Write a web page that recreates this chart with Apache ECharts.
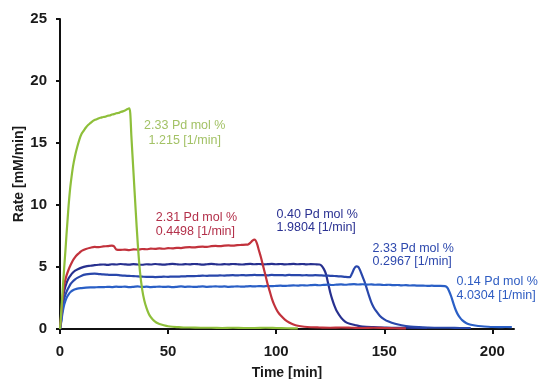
<!DOCTYPE html>
<html><head><meta charset="utf-8">
<script src="https://cdn.jsdelivr.net/npm/echarts@6/dist/echarts.min.js"></script>
<style>html,body{margin:0;padding:0;background:#fff}#c{width:540px;height:379px}</style>
</head><body><div id="c"></div>
<script>
var xTicks = [0, 50, 100, 150, 200];
var yTicks = [0, 5, 10, 15, 20, 25];

var green233 = [[0,0],[0.5,1.2],[1,2.5],[1.5,3.8],[2,5.1],[2.5,6.3],[3,7.6],[3.5,8.8],[4,10],[4.5,11],[5,11.8],[6,13.1],[7,14],[8,14.7],[9,15.3],[10,15.75],[11,16.0],[12,16.25],[13,16.45],[14,16.6],[15,16.75],[16,16.85],[17,16.92],[18,17.0],[19,17.05],[20,17.1],[21,17.12],[22,17.2],[23,17.22],[24,17.3],[25,17.33],[26,17.4],[27,17.42],[28,17.5],[29,17.55],[30,17.62],[31,17.72],[32,17.8],[32.5,17.4],[33,15.6],[34,12.6],[35,9.6],[36,6.8],[37,4.6],[38,3.2],[39,2.3],[40,1.7],[41,1.25],[42,0.95],[43,0.75],[44,0.6],[45,0.48],[46,0.4],[48,0.3],[50,0.22],[52,0.18],[55,0.15],[58,0.12],[60,0.12],[65,0.1],[70,0.1],[75,0.08],[80,0.1],[85,0.08],[90,0.08],[95,0.1],[100,0.08],[105,0.06],[110,0.05]];

var red231 = [[0,0],[0.5,1.0],[1,2.2],[1.5,3.0],[2,3.6],[3,4.3],[4,4.8],[5,5.2],[6,5.55],[7,5.8],[8,6.0],[9,6.15],[10,6.3],[12,6.45],[14,6.55],[16,6.62],[18,6.6],[20,6.66],[22,6.68],[24,6.72],[25,6.66],[26,6.42],[28,6.38],[30,6.4],[32,6.36],[34,6.42],[36,6.4],[38,6.45],[40,6.43],[42,6.48],[44,6.46],[46,6.5],[48,6.47],[50,6.52],[52,6.5],[54,6.55],[56,6.53],[58,6.58],[60,6.6],[62,6.58],[64,6.62],[66,6.64],[68,6.62],[70,6.68],[72,6.7],[74,6.68],[76,6.72],[78,6.74],[80,6.72],[82,6.76],[84,6.78],[86,6.8],[87,6.82],[88,6.95],[89,7.12],[90,7.2],[91,6.95],[92,6.35],[93,5.75],[94,5.05],[95,4.35],[96,3.65],[97,3.05],[98,2.45],[99,1.98],[100,1.62],[101,1.32],[102,1.1],[104,0.76],[106,0.52],[108,0.36],[110,0.26],[113,0.18],[116,0.14],[120,0.12],[125,0.1],[130,0.12],[135,0.1],[140,0.08],[145,0.1],[150,0.08],[155,0.06],[160,0.05]];

var navy040 = [[0,0],[0.5,0.7],[1,1.8],[1.5,2.6],[2,3.1],[3,3.7],[4,4.1],[5,4.35],[6,4.55],[7,4.7],[8,4.8],[10,4.95],[12,5.05],[14,5.1],[16,5.15],[18,5.18],[20,5.2],[22,5.17],[24,5.22],[26,5.2],[28,5.24],[30,5.21],[32,5.19],[34,5.23],[36,5.2],[38,5.18],[40,5.22],[42,5.2],[44,5.24],[46,5.21],[48,5.19],[50,5.22],[52,5.25],[54,5.22],[56,5.2],[58,5.23],[60,5.21],[62,5.24],[64,5.22],[66,5.19],[68,5.22],[70,5.25],[72,5.22],[74,5.2],[76,5.23],[78,5.21],[80,5.24],[82,5.22],[84,5.2],[86,5.23],[88,5.25],[90,5.22],[92,5.24],[94,5.21],[96,5.23],[98,5.25],[100,5.22],[102,5.24],[104,5.21],[106,5.23],[108,5.25],[110,5.22],[112,5.24],[114,5.21],[116,5.23],[118,5.22],[120,5.2],[121,5.1],[122,4.85],[123,4.45],[124,3.7],[125,2.95],[126,2.35],[127,1.85],[128,1.45],[130,0.92],[132,0.58],[134,0.42],[137,0.3],[140,0.2],[145,0.15],[150,0.12],[155,0.1],[160,0.1],[165,0.08],[170,0.08]];

var blue233 = [[0,0],[0.5,0.6],[1,1.4],[1.5,2.05],[2,2.5],[3,3.0],[4,3.35],[5,3.65],[6,3.85],[7,4.0],[8,4.12],[10,4.3],[12,4.4],[14,4.45],[16,4.46],[18,4.43],[20,4.4],[22,4.38],[24,4.36],[26,4.37],[28,4.33],[30,4.3],[32,4.28],[34,4.27],[36,4.24],[38,4.22],[40,4.2],[42,4.21],[44,4.19],[46,4.2],[48,4.22],[50,4.21],[52,4.23],[54,4.22],[56,4.24],[58,4.25],[60,4.27],[62,4.26],[64,4.28],[66,4.3],[68,4.29],[70,4.31],[72,4.3],[74,4.32],[76,4.31],[78,4.33],[80,4.34],[82,4.32],[84,4.35],[86,4.33],[88,4.34],[90,4.36],[92,4.34],[94,4.35],[96,4.33],[98,4.36],[100,4.34],[102,4.35],[104,4.33],[106,4.36],[108,4.34],[110,4.35],[112,4.33],[114,4.34],[116,4.32],[118,4.34],[120,4.33],[122,4.31],[124,4.3],[126,4.28],[128,4.27],[130,4.24],[132,4.2],[134,4.18],[135,4.45],[136,4.85],[137,5.05],[138,5.0],[139,4.65],[140,4.2],[141,3.75],[142,3.2],[143,2.65],[144,2.15],[145,1.78],[146,1.5],[148,1.05],[150,0.78],[152,0.6],[155,0.42],[158,0.3],[162,0.2],[166,0.15],[170,0.12],[175,0.1],[180,0.1],[185,0.08],[190,0.08]];

var blue014 = [[0,0],[0.5,0.5],[1,1.1],[1.5,1.6],[2,2.0],[3,2.5],[4,2.8],[5,3.0],[6,3.12],[7,3.2],[8,3.26],[10,3.3],[12,3.33],[14,3.35],[16,3.36],[18,3.38],[20,3.37],[22,3.4],[24,3.38],[26,3.41],[28,3.39],[30,3.42],[32,3.38],[34,3.4],[36,3.43],[38,3.39],[40,3.41],[42,3.38],[44,3.4],[46,3.42],[48,3.39],[50,3.41],[52,3.38],[54,3.4],[56,3.43],[58,3.4],[60,3.42],[62,3.39],[64,3.41],[66,3.43],[68,3.4],[70,3.42],[72,3.44],[74,3.41],[76,3.43],[78,3.4],[80,3.42],[82,3.44],[84,3.41],[86,3.43],[88,3.45],[90,3.43],[92,3.46],[94,3.44],[96,3.47],[98,3.45],[100,3.48],[102,3.5],[104,3.47],[106,3.5],[108,3.52],[110,3.5],[112,3.53],[114,3.51],[116,3.54],[118,3.56],[120,3.53],[122,3.56],[124,3.58],[126,3.55],[128,3.58],[130,3.6],[132,3.57],[134,3.6],[136,3.62],[138,3.59],[140,3.61],[142,3.58],[144,3.6],[146,3.57],[148,3.58],[150,3.55],[152,3.57],[154,3.54],[156,3.55],[158,3.52],[160,3.54],[162,3.51],[164,3.52],[166,3.49],[168,3.5],[170,3.48],[172,3.49],[174,3.47],[176,3.48],[178,3.46],[179,3.36],[180,3.05],[181,2.6],[182,2.05],[183,1.55],[184,1.18],[185,0.92],[186,0.72],[188,0.46],[190,0.34],[192,0.28],[195,0.22],[198,0.18],[200,0.16],[203,0.15],[206,0.16],[209,0.15]];

var labelLines = [
  ["2.33 Pd mol %", "1.215 [1/min]"],
  ["2.31 Pd mol %", "0.4498 [1/min]"],
  ["0.40 Pd mol %", "1.9804 [1/min]"],
  ["2.33 Pd mol %", "0.2967 [1/min]"],
  ["0.14 Pd mol %", "4.0304 [1/min]"]
];

// label anchors (data coords) and styles
var labelCfg = [
  {at: [57.7, 16.37, 15.16], align: 'center', color: '#a3c266'},
  {at: [44.3, 8.95, 7.82], align: 'left', color: '#b3304a'},
  {at: [100.2, 9.19, 8.2], align: 'left', color: '#2a3192'},
  {at: [144.6, 6.45, 5.48], align: 'left', color: '#2d48ad'},
  {at: [183.4, 3.79, 2.66], align: 'left', color: '#2e5cc2'}
];

var seriesList = [
  {name: 'navy', data: navy040, color: '#27308f'},
  {name: 'blue233', data: blue233, color: '#2947ab'},
  {name: 'blue014', data: blue014, color: '#2a5fc6'},
  {name: 'red', data: red231, color: '#c2323c'},
  {name: 'green', data: green233, color: '#8ebf3a'}
];

var chart = echarts.init(document.getElementById('c'), null, {renderer: 'canvas'});
var axisFont = {fontFamily: 'Liberation Sans, Arial, sans-serif', fontWeight: 'bold', fontSize: 15, color: '#1a1a1a'};

var option = {
  animation: false,
  backgroundColor: '#ffffff',
  grid: {left: 60, right: 26, top: 19, bottom: 50, containLabel: false, outerBoundsMode: 'none'},
  xAxis: {
    type: 'value', min: 0, max: 210,
    name: 'Time [min]', nameLocation: 'middle', nameGap: 37, nameMoveOverlap: false,
    nameTextStyle: {fontFamily: 'Liberation Sans, Arial, sans-serif', fontWeight: 'bold', fontSize: 14, color: '#1a1a1a'},
    axisLine: {lineStyle: {color: '#111', width: 2}},
    axisTick: {show: true, length: 5, inside: false, customValues: xTicks, lineStyle: {color: '#111', width: 2}},
    axisLabel: Object.assign({margin: 15, customValues: xTicks}, axisFont),
    splitLine: {show: false}
  },
  yAxis: {
    type: 'value', min: 0, max: 25, interval: 5,
    name: 'Rate [mM/min]', nameLocation: 'middle', nameGap: 34, nameRotate: 90, nameMoveOverlap: false,
    nameTextStyle: {fontFamily: 'Liberation Sans, Arial, sans-serif', fontWeight: 'bold', fontSize: 14, color: '#1a1a1a'},
    axisLine: {show: true, lineStyle: {color: '#111', width: 2}},
    axisTick: {show: true, length: 4, inside: false, lineStyle: {color: '#111', width: 2}},
    axisLabel: Object.assign({margin: 13}, axisFont),
    splitLine: {show: false}
  },
  series: seriesList.map(function (s) {
    return {
      type: 'line', name: s.name, data: s.data, showSymbol: false, symbol: 'none',
      smooth: 0.3, lineStyle: {color: s.color, width: 2.2}, itemStyle: {color: s.color}, z: 3
    };
  })
};
chart.setOption(option);

var graphics = [];
labelCfg.forEach(function (cfg, i) {
  var p1 = chart.convertToPixel({gridIndex: 0}, [cfg.at[0], cfg.at[1]]);
  var p2 = chart.convertToPixel({gridIndex: 0}, [cfg.at[0], cfg.at[2]]);
  [p1, p2].forEach(function (p, j) {
    graphics.push({
      type: 'text', x: p[0], y: p[1], z: 10,
      style: {text: labelLines[i][j], fill: cfg.color, font: '12.5px "Liberation Sans", Arial, sans-serif',
        textAlign: cfg.align, textVerticalAlign: 'middle'}
    });
  });
});
chart.setOption({graphic: graphics});
</script>
</body></html>
